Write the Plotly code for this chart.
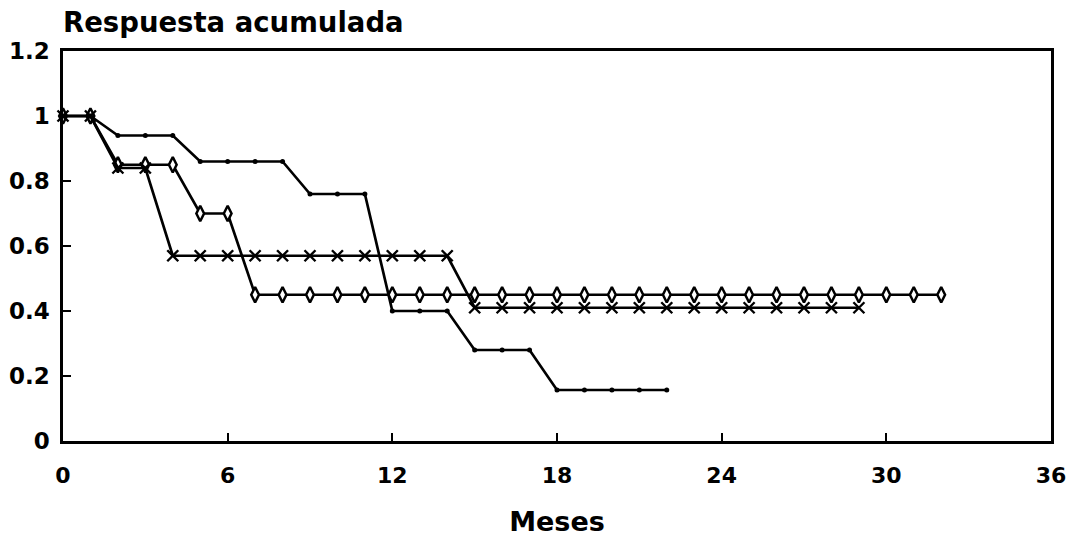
import plotly.graph_objects as go

# Series A: small filled dots
meses_a = list(range(0, 23))
resp_a = [1, 1, 0.94, 0.94, 0.94, 0.86, 0.86, 0.86, 0.86, 0.76, 0.76, 0.76,
          0.40, 0.40, 0.40, 0.28, 0.28, 0.28, 0.157, 0.157, 0.157, 0.157, 0.157]

# Series B: open diamonds
meses_b = list(range(0, 33))
resp_b = [1, 1, 0.85, 0.85, 0.85, 0.70, 0.70] + [0.45] * 26

# Series C: crosses
meses_c = list(range(0, 30))
resp_c = [1, 1, 0.84, 0.84] + [0.57] * 11 + [0.41] * 15

x_ticks = [0, 6, 12, 18, 24, 30, 36]
y_ticks = [0, 0.2, 0.4, 0.6, 0.8, 1, 1.2]
y_tick_text = ["0", "0.2", "0.4", "0.6", "0.8", "1", "1.2"]

FONT = "DejaVu Sans"

fig = go.Figure()
fig.add_trace(go.Scatter(
    x=meses_b, y=resp_b, mode="lines+markers", cliponaxis=False,
    line=dict(color="black", width=2.7),
    marker=dict(symbol="diamond-tall", size=11, color="white",
                line=dict(color="black", width=2.5)),
))
fig.add_trace(go.Scatter(
    x=meses_c, y=resp_c, mode="lines+markers", cliponaxis=False,
    line=dict(color="black", width=2.7),
    marker=dict(symbol="x-thin", size=11, color="black",
                line=dict(color="black", width=2.4)),
))
fig.add_trace(go.Scatter(
    x=meses_a, y=resp_a, mode="lines+markers", cliponaxis=False,
    line=dict(color="black", width=2.7),
    marker=dict(symbol="circle", size=5, color="black"),
))

fig.update_layout(
    width=1078, height=539,
    margin=dict(l=63, r=27, t=51, b=98),
    paper_bgcolor="white", plot_bgcolor="white",
    showlegend=False,
    font=dict(family=FONT, color="black"),
    title=dict(text="<b>Respuesta acumulada</b>", font=dict(family=FONT, size=27.5, color="black"),
               xref="paper", x=0, xanchor="left",
               yref="container", y=1 - 22 / 539, yanchor="middle"),
)
fig.update_xaxes(
    range=[0, 36], tickvals=x_ticks, ticktext=[str(v) for v in x_ticks],
    automargin=False,
    showgrid=False, zeroline=False,
    showline=True, linecolor="black", linewidth=2.5, mirror=True,
    ticks="inside", ticklen=8, tickwidth=2, tickcolor="black",
    tickfont=dict(family=FONT, size=22, color="black", weight="bold"),
    ticklabelstandoff=13,
    title=dict(text="<b>Meses</b>", font=dict(family=FONT, size=27, color="black"), standoff=25),
)
fig.update_yaxes(
    range=[0, 1.2], tickvals=y_ticks, ticktext=y_tick_text,
    automargin=False,
    showgrid=False, zeroline=False,
    showline=True, linecolor="black", linewidth=2.5, mirror=True,
    ticks="inside", ticklen=8, tickwidth=2, tickcolor="black",
    tickfont=dict(family=FONT, size=23, color="black", weight="bold"),
    ticklabelstandoff=6,
)

fig.write_html("out.html")
